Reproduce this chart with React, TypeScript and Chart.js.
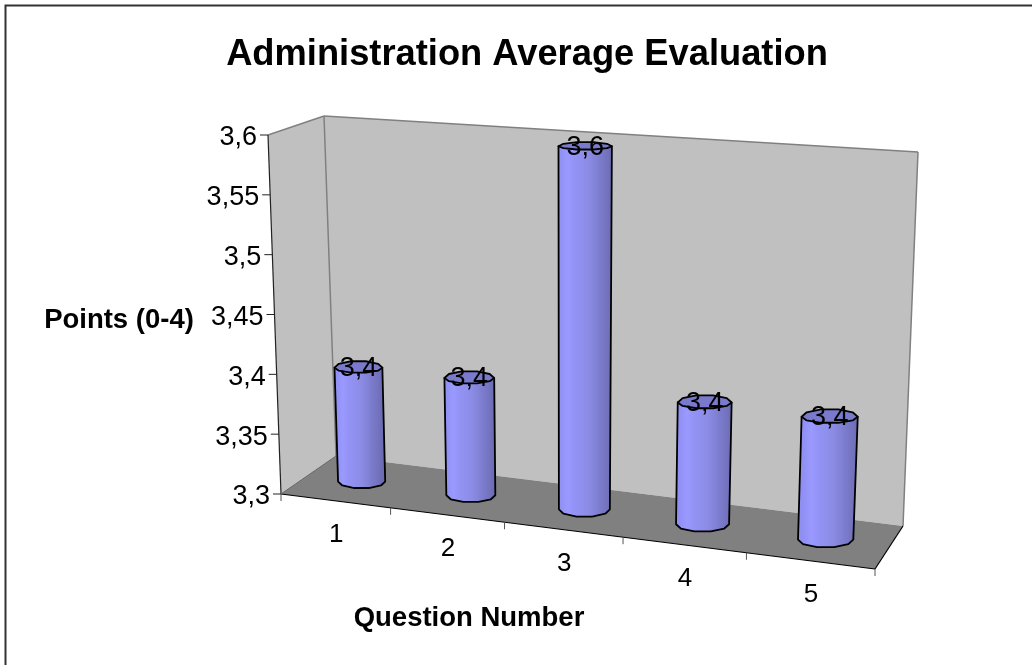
import React, { useEffect, useRef } from "react";
import { Chart, registerables } from "chart.js";

Chart.register(...registerables);

const TITLE = "Administration Average Evaluation";
const X_TITLE = "Question Number";
const Y_TITLE = "Points (0-4)";
const categories = ["1", "2", "3", "4", "5"];
const seriesValues = [3.397, 3.398, 3.598, 3.398, 3.397];
const yMin = 3.3;
const yMax = 3.6;
const yStep = 0.05;

const FONT = '"Liberation Sans", Arial, sans-serif';
const P = {
  fbl: [281, 494], ftl: [268, 135], fbr: [875, 569], ftr: [891, 176],
  bbl: [336, 456], btl: [324, 116], bbr: [903, 526], btr: [918, 152],
};
const PERSPECTIVE = 1.105;
const lerp = (a: number[], b: number[], t: number) => [a[0] + (b[0] - a[0]) * t, a[1] + (b[1] - a[1]) * t];

function project(u: number, v: number, d: number) {
  const t = u / (u + (1 - u) * PERSPECTIVE);
  const front = lerp(lerp(P.fbl, P.fbr, t), lerp(P.ftl, P.ftr, t), v);
  const back = lerp(lerp(P.bbl, P.bbr, t), lerp(P.btl, P.btr, t), v);
  return lerp(front, back, d);
}

function poly(ctx: CanvasRenderingContext2D, pts: number[][], fill: string) {
  ctx.beginPath();
  pts.forEach((p, i) => (i ? ctx.lineTo(p[0], p[1]) : ctx.moveTo(p[0], p[1])));
  ctx.closePath();
  ctx.fillStyle = fill;
  ctx.fill();
}
function line(ctx: CanvasRenderingContext2D, a: number[], b: number[], color: string, w: number) {
  ctx.beginPath();
  ctx.moveTo(a[0], a[1]);
  ctx.lineTo(b[0], b[1]);
  ctx.strokeStyle = color;
  ctx.lineWidth = w;
  ctx.stroke();
}
function text(ctx: CanvasRenderingContext2D, s: string, x: number, y: number, font: string, align: CanvasTextAlign = "center") {
  ctx.font = font;
  ctx.textAlign = align;
  ctx.textBaseline = "middle";
  ctx.fillStyle = "#000";
  ctx.fillText(s, x, y);
}

// Half of a faceted ellipse from the right end to the left end; dir = 1 is the lower half.
function arc(cx: number, cy: number, rx: number, ry: number, dir: number) {
  return [0, 35, 72, 108, 145, 180].map((deg) => {
    const th = (deg * Math.PI) / 180;
    return [cx + Math.cos(th) * rx, cy + dir * Math.sin(th) * ry];
  });
}

const threeD = {
  id: "threeD",
  beforeDatasetsDraw(chart: any) {
    const ctx: CanvasRenderingContext2D = chart.ctx;
    ctx.save();
    ctx.beginPath();
    ctx.moveTo(5.5, 665);
    ctx.lineTo(5.5, 5.5);
    ctx.lineTo(1032, 5.5);
    ctx.strokeStyle = "#333";
    ctx.lineWidth = 2;
    ctx.stroke();
    poly(ctx, [P.ftl, P.btl, P.bbl, P.fbl], "#c0c0c0");
    poly(ctx, [P.btl, P.btr, P.bbr, P.bbl], "#c0c0c0");
    poly(ctx, [P.fbl, P.bbl, P.bbr, P.fbr], "#808080");
    line(ctx, P.ftl, P.btl, "#808080", 1.5);
    line(ctx, P.btl, P.btr, "#808080", 1.5);
    line(ctx, P.btr, P.bbr, "#808080", 1.5);
    line(ctx, P.btl, P.bbl, "#808080", 1.5);
    line(ctx, P.ftl, P.fbl, "#222", 1.2);
    line(ctx, P.fbl, P.fbr, "#000", 1.2);
    line(ctx, P.fbr, P.bbr, "#000", 1.2);
    line(ctx, P.fbl, P.bbl, "#666", 1);
    const ys = chart.scales.y;
    const area = chart.chartArea;
    ys.ticks.forEach((tk: any) => {
      const v = (area.bottom - ys.getPixelForValue(tk.value)) / (area.bottom - area.top);
      const p = project(0, v, 0);
      line(ctx, [p[0] - 8, p[1]], p, "#222", 1);
      text(ctx, String(+tk.value.toFixed(2)).replace(".", ","), p[0] - 11, p[1] + 3, `27px ${FONT}`, "right");
    });
    const xs = chart.scales.x;
    categories.forEach((c, i) => {
      const u = (xs.getPixelForValue(i) - area.left) / (area.right - area.left);
      const step = 1 / categories.length;
      const a = project(u - step / 2, 0, 0);
      line(ctx, a, [a[0], a[1] + 7], "#555", 1);
      if (i === categories.length - 1) {
        const e = project(1, 0, 0);
        line(ctx, e, [e[0], e[1] + 7], "#555", 1);
      }
      const m = project(u, 0, 0);
      text(ctx, c, m[0] + 1, m[1] + 34, `26px ${FONT}`);
    });
    text(ctx, X_TITLE, 469, 618, `bold 27.5px ${FONT}`);
    text(ctx, Y_TITLE, 119, 320, `bold 27.5px ${FONT}`);
    ctx.restore();
  },
  afterDatasetsDraw(chart: any) {
    const ctx: CanvasRenderingContext2D = chart.ctx;
    const area = chart.chartArea;
    const W = area.right - area.left;
    const H = area.bottom - area.top;
    const meta = chart.getDatasetMeta(0);
    ctx.save();
    ctx.lineJoin = "round";
    meta.data.forEach((el: any, i: number) => {
      const uL = (el.x - el.width / 2 - area.left) / W;
      const uR = (el.x + el.width / 2 - area.left) / W;
      const v = (area.bottom - el.y) / H;
      const tl = project(uL, v, 0.5);
      const tr = project(uR, v, 0.5);
      const bl = project(uL, 0, 0.5);
      const br = project(uR, 0, 0.5);
      const w = tr[0] - tl[0];
      const topY = (tl[1] + tr[1]) / 2;
      const botY = (bl[1] + br[1]) / 2;
      const ryTop = w * (topY < 300 ? 0.08 : 0.14);
      const ryBot = w * 0.14;
      const topCx = (tl[0] + tr[0]) / 2;
      const botCx = (bl[0] + br[0]) / 2;
      const bottom = arc(botCx, botY, (br[0] - bl[0]) / 2, ryBot, 1);
      const side = [[tl[0], topY], [tr[0], topY], ...bottom];
      const g = ctx.createLinearGradient(tl[0], 0, tr[0], 0);
      g.addColorStop(0, "#8f8ff2");
      g.addColorStop(0.18, "#9999ff");
      g.addColorStop(0.32, "#9292f4");
      g.addColorStop(0.55, "#8c8ce6");
      g.addColorStop(0.72, "#8080d4");
      g.addColorStop(1, "#6c6cb4");
      ctx.beginPath();
      side.forEach((p, k) => (k ? ctx.lineTo(p[0], p[1]) : ctx.moveTo(p[0], p[1])));
      ctx.closePath();
      ctx.fillStyle = g;
      ctx.fill();
      ctx.strokeStyle = "#000";
      ctx.lineWidth = 1.8;
      ctx.stroke();
      const upper = arc(topCx, topY, w / 2, ryTop, -1);
      const lower = arc(topCx, topY, w / 2, ryTop * 0.8, 1).reverse();
      ctx.beginPath();
      [...upper, ...lower].forEach((p, k) => (k ? ctx.lineTo(p[0], p[1]) : ctx.moveTo(p[0], p[1])));
      ctx.closePath();
      ctx.fillStyle = "#7a7acc";
      ctx.fill();
      ctx.stroke();
      text(ctx, seriesValues[i].toFixed(1).replace(".", ","), topCx, topY + 1, `27px ${FONT}`);
    });
    ctx.restore();
  },
};

export default function App() {
  const ref = useRef<HTMLCanvasElement>(null);
  useEffect(() => {
    const chart = new Chart(ref.current!, {
      type: "bar",
      data: {
        labels: categories,
        datasets: [
          {
            label: "Average",
            data: seriesValues,
            backgroundColor: "transparent",
            borderWidth: 0,
            barPercentage: 0.44,
            categoryPercentage: 1,
          },
        ],
      },
      options: {
        responsive: false,
        animation: false,
        layout: { padding: { left: 22, top: 0, right: 0, bottom: 0 } },
        plugins: {
          legend: { display: false },
          tooltip: { enabled: false },
          title: {
            display: true,
            text: TITLE,
            color: "#000",
            font: { family: FONT, size: 36.3, weight: "bold", lineHeight: 1.2 },
            padding: { top: 33, bottom: 40 },
          },
        },
        scales: {
          x: { display: false },
          y: { display: false, min: yMin, max: yMax, ticks: { stepSize: yStep } },
        },
      },
      plugins: [threeD],
    } as any);
    return () => chart.destroy();
  }, []);
  return (
    <canvas
      ref={ref}
      width={1032}
      height={665}
      style={{ position: "absolute", left: 0, top: 0, display: "block", background: "#fff" }}
    />
  );
}
